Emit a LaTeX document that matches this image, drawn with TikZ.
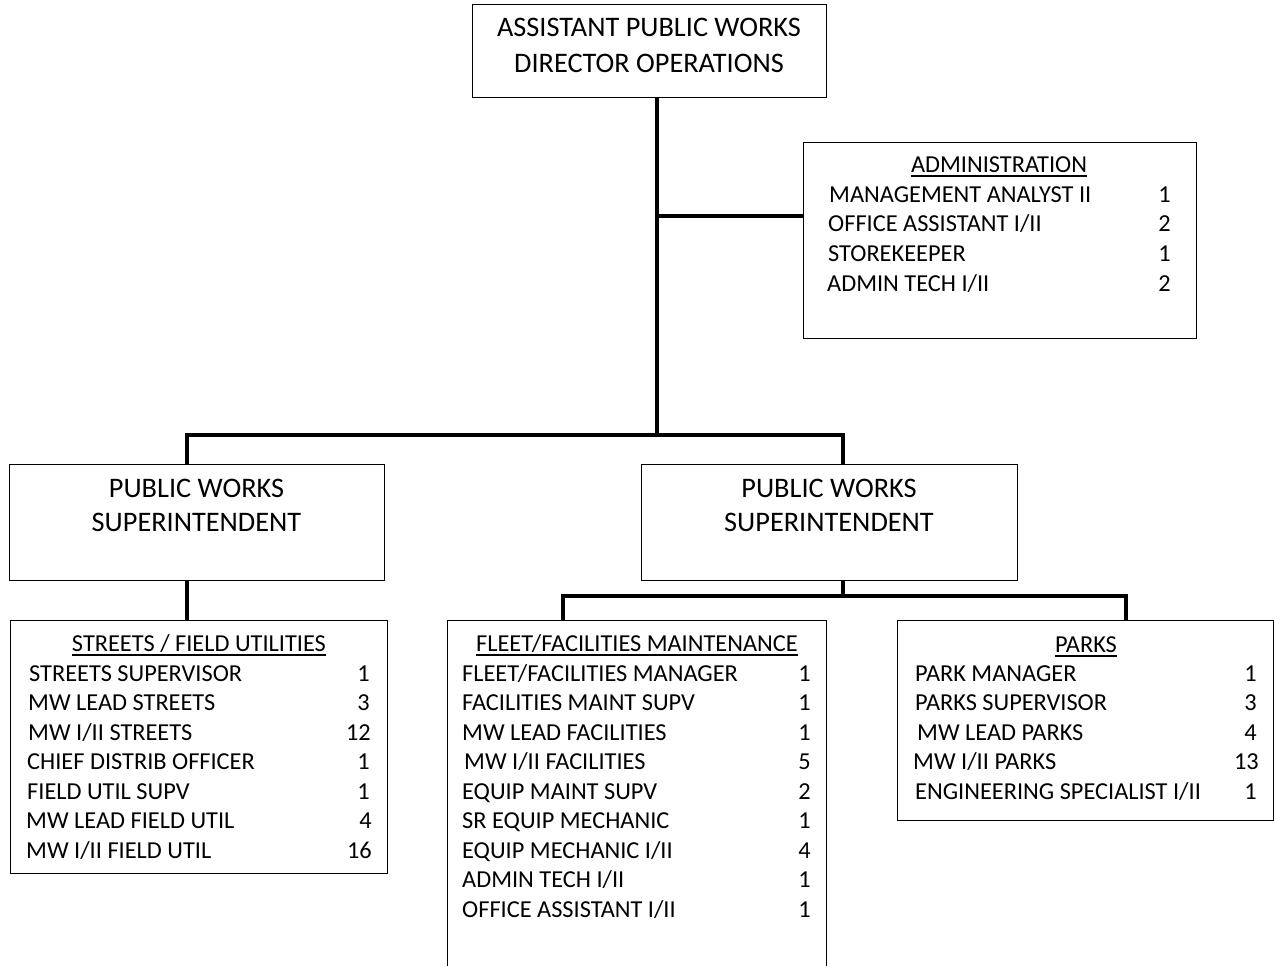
\documentclass[tikz,border=0pt]{standalone}
\usepackage{fontspec}
\setmainfont{Carlito}
% one row of a staffing list: name, left x, right x, baseline y, title, count
\newcommand{\jobrow}[6]{%
  \node[lbl] (#1-l) at (#2,#4) {#5};
  \node[num] (#1-n) at (#3,#4) {#6};}
\begin{document}
\begin{tikzpicture}[x=1pt,y=-1pt,
  box/.style={draw, line width=1.3pt, rectangle, inner sep=0pt, anchor=north west},
  conn/.style={line width=4pt},
  head/.style={font=\fontsize{28.3}{34}\selectfont, anchor=base, inner sep=0pt},
  sect/.style={font=\fontsize{24.35}{30}\selectfont, anchor=base, inner sep=0pt},
  lbl/.style={font=\fontsize{24.35}{30}\selectfont, anchor=base west, inner sep=0pt},
  num/.style={font=\fontsize{24.35}{30}\selectfont, anchor=base east, inner sep=0pt},
  uline/.style={line width=1.6pt}]
\useasboundingbox (0,0) rectangle (1274,966);

% boxes
\node[box, minimum width=354pt, minimum height=93pt] (dir) at (472,4) {};
\node[box, minimum width=393pt, minimum height=196pt] (admin) at (803,142) {};
\node[box, minimum width=375pt, minimum height=116pt] (supL) at (9,464) {};
\node[box, minimum width=376pt, minimum height=116pt] (supR) at (641,464) {};
\node[box, minimum width=377pt, minimum height=253pt] (streets) at (10,620) {};
\node[box, minimum width=379pt, minimum height=360pt] (fleet) at (447,620) {};
\node[box, minimum width=376pt, minimum height=200pt] (parks) at (897,620) {};

% junction points of the connectors
\coordinate (trunk) at (657,435);
\coordinate (adminjoin) at (657,216);
\coordinate (bL) at (187,435);
\coordinate (bR) at (843,435);
\coordinate (bR2) at (843,596);
\coordinate (fJ) at (563,596);
\coordinate (pJ) at (1126,596);

% connectors
\draw[conn] (dir.south -| trunk) -- (trunk);
\draw[conn] (adminjoin) -- (admin.west |- adminjoin);
\draw[conn] (supL.north -| bL) -- (bL) -- (bR) -- (supR.north -| bR);
\draw[conn] (supL.south -| bL) -- (streets.north -| bL);
\draw[conn] (supR.south -| bR2) -- (bR2);
\draw[conn] (fleet.north -| fJ) -- (fJ) -- (pJ) -- (parks.north -| pJ);

% titles
\node[head] (dir1) at (649,37) {ASSISTANT PUBLIC WORKS};
\node[head] (dir2) at (649,72) {DIRECTOR OPERATIONS};
\node[head] (supL1) at (196.5,497) {PUBLIC WORKS};
\node[head] (supL2) at (196.5,531) {SUPERINTENDENT};
\node[head] (supR1) at (829,497) {PUBLIC WORKS};
\node[head] (supR2) at (829,531) {SUPERINTENDENT};

% administration
\node[sect] (adminh) at (999,172) {ADMINISTRATION};
\draw[uline] ([yshift=-4pt]adminh.base west) -- ([yshift=-4pt]adminh.base east);
\jobrow{a1}{829}{1171}{202}{MANAGEMENT ANALYST II}{1}
\jobrow{a2}{828}{1171}{231}{OFFICE ASSISTANT I/II}{2}
\jobrow{a3}{828}{1171}{261}{STOREKEEPER}{1}
\jobrow{a4}{827}{1171}{291}{ADMIN TECH I/II}{2}

% streets / field utilities
\node[sect] (streetsh) at (199,651) {STREETS / FIELD UTILITIES};
\draw[uline] ([yshift=-4pt]streetsh.base west) -- ([yshift=-4pt]streetsh.base east);
\jobrow{s1}{29}{370}{681}{STREETS SUPERVISOR}{1}
\jobrow{s2}{28}{370}{710.5}{MW LEAD STREETS}{3}
\jobrow{s3}{28}{371}{740}{MW I/II STREETS}{12}
\jobrow{s4}{27}{370}{769.5}{CHIEF DISTRIB OFFICER}{1}
\jobrow{s5}{27}{370}{799}{FIELD UTIL SUPV}{1}
\jobrow{s6}{26}{372}{828.5}{MW LEAD FIELD UTIL}{4}
\jobrow{s7}{26}{372}{858}{MW I/II FIELD UTIL}{16}

% fleet / facilities maintenance
\node[sect] (fleeth) at (637,651) {FLEET/FACILITIES MAINTENANCE};
\draw[uline] ([yshift=-4pt]fleeth.base west) -- ([yshift=-4pt]fleeth.base east);
\jobrow{f1}{462}{811}{681}{FLEET/FACILITIES MANAGER}{1}
\jobrow{f2}{462}{811}{710.5}{FACILITIES MAINT SUPV}{1}
\jobrow{f3}{462}{811}{740}{MW LEAD FACILITIES}{1}
\jobrow{f4}{464}{811}{769.5}{MW I/II FACILITIES}{5}
\jobrow{f5}{462}{811}{799}{EQUIP MAINT SUPV}{2}
\jobrow{f6}{462}{811}{828.5}{SR EQUIP MECHANIC}{1}
\jobrow{f7}{462}{811}{858}{EQUIP MECHANIC I/II}{4}
\jobrow{f8}{462}{811}{887.5}{ADMIN TECH I/II}{1}
\jobrow{f9}{462}{811}{917}{OFFICE ASSISTANT I/II}{1}

% parks
\node[sect] (parksh) at (1086,652) {PARKS};
\draw[uline] ([yshift=-4pt]parksh.base west) -- ([yshift=-4pt]parksh.base east);
\jobrow{p1}{915}{1257}{681}{PARK MANAGER}{1}
\jobrow{p2}{915}{1257}{710.5}{PARKS SUPERVISOR}{3}
\jobrow{p3}{917}{1257}{740}{MW LEAD PARKS}{4}
\jobrow{p4}{913}{1259}{769.5}{MW I/II PARKS}{13}
\jobrow{p5}{915}{1257}{799}{ENGINEERING SPECIALIST I/II}{1}
\end{tikzpicture}
\end{document}
